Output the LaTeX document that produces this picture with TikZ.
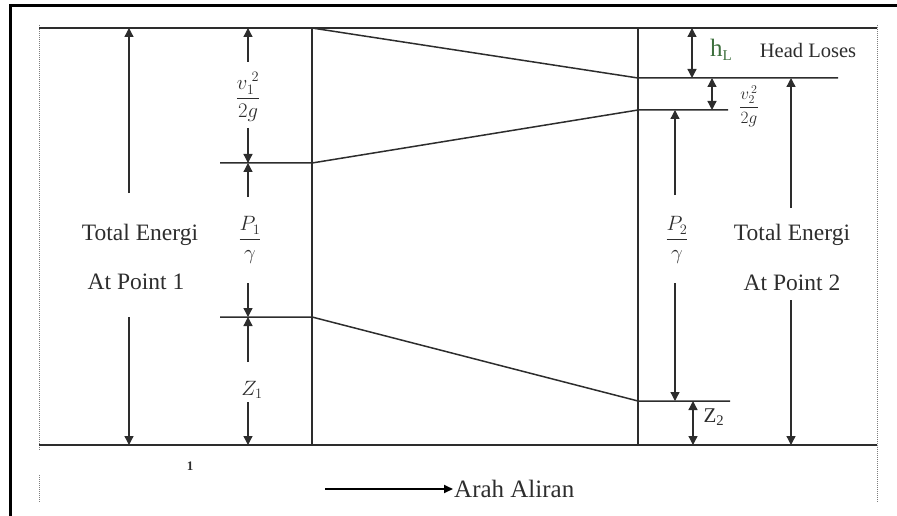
\documentclass[tikz,border=0pt]{standalone}
\usepackage{amsmath}
\usepackage{fontspec}
\setmainfont{Liberation Serif}
\usepackage{tikz}
\usetikzlibrary{arrows.meta,positioning}
\definecolor{lineGray}{RGB}{45,45,45}
\definecolor{dotGray}{RGB}{125,125,125}
\definecolor{headGreen}{RGB}{62,112,62}

\tikzset{
  levelline/.style={lineGray, line width=1.5pt},
  dimarrow/.style={-{Triangle[length=9pt,width=9pt]}, lineGray, line width=1.3pt},
  dimboth/.style={{Triangle[length=9pt,width=9pt]}-{Triangle[length=9pt,width=9pt]}, lineGray, line width=1.3pt},
  flowarrow/.style={-{Triangle[length=9pt,width=8pt]}, black, line width=1.8pt},
  guide/.style={dotGray, densely dotted, line width=1pt},
  lbl/.style={text=lineGray, inner sep=1pt, font=\fontsize{23.5}{26}\selectfont},
  headlbl/.style={lbl, font=\fontsize{21}{24}\selectfont},
}

\begin{document}
\begin{tikzpicture}[x=1pt,y=-1pt]
    \useasboundingbox (0,0) rectangle (897,516);

    % frame and guides
    \draw[black, line width=3pt] (10,516) -- (10,6) -- (897,6);
    \draw[guide] (39,25) -- (39,450);
    \draw[guide] (39,475) -- (39,503);
    \draw[guide] (877,25) -- (877,503);

    % datum, top line, sections
    \coordinate (topL) at (39,28);
    \coordinate (topR) at (877,28);
    \coordinate (datumL) at (39,445);
    \coordinate (datumR) at (877,445);
    \coordinate (sec1Top) at (312,28);
    \coordinate (sec1Bot) at (312,445);
    \coordinate (sec2Top) at (638,28);
    \coordinate (sec2Bot) at (638,445);
    \draw[levelline] (topL) -- (topR);
    \draw[levelline] (datumL) -- (datumR);
    \draw[levelline] (sec1Top) -- (sec1Bot);
    \draw[levelline] (sec2Top) -- (sec2Bot);

    % energy line, velocity line, pressure line
    \coordinate (egl2) at (638,78);
    \coordinate (egl2End) at (838,78);
    \coordinate (vel1Start) at (220,163);
    \coordinate (vel1) at (312,163);
    \coordinate (vel2) at (638,110);
    \coordinate (vel2End) at (728,110);
    \coordinate (pres1Start) at (220,317);
    \coordinate (pres1) at (312,317);
    \coordinate (pres2) at (638,401);
    \coordinate (pres2End) at (730,401);
    \draw[levelline] (sec1Top) -- (egl2) -- (egl2End);
    \draw[levelline] (vel1Start) -- (vel1) -- (vel2) -- (vel2End);
    \draw[levelline] (pres1Start) -- (pres1) -- (pres2) -- (pres2End);

    % total energy at point 1
    \node[lbl] (tot1) at (140,235) {Total Energi};
    \node[lbl] (pt1) at (136,282) {At Point 1};
    \coordinate (tot1Top) at (129,28);
    \coordinate (tot1Up) at (129,193);
    \coordinate (tot1Dn) at (129,317);
    \coordinate (tot1Bot) at (129,445);
    \draw[dimarrow] (tot1Up) -- (tot1Top);
    \draw[dimarrow] (tot1Dn) -- (tot1Bot);

    % heads at point 1
    \node[headlbl] (v1head) at (248,97) {$\dfrac{v_1^{\;2}}{2g}$};
    \node[headlbl] (p1head) at (250,240) {$\dfrac{P_1}{\gamma}$};
    \node[headlbl] (z1head) at (252,390) {$Z_1$};
    \coordinate (c1Top) at (248,28);
    \coordinate (c1a) at (248,62);
    \coordinate (c1b) at (248,128);
    \coordinate (c1Vel) at (248,163);
    \coordinate (c1c) at (248,197);
    \coordinate (c1d) at (248,283);
    \coordinate (c1Pres) at (248,317);
    \coordinate (c1e) at (248,362);
    \coordinate (c1f) at (248,402);
    \coordinate (c1Bot) at (248,445);
    \draw[dimarrow] (c1a) -- (c1Top);
    \draw[dimarrow] (c1b) -- (c1Vel);
    \draw[dimarrow] (c1c) -- (c1Vel);
    \draw[dimarrow] (c1d) -- (c1Pres);
    \draw[dimarrow] (c1e) -- (c1Pres);
    \draw[dimarrow] (c1f) -- (c1Bot);

    % heads at point 2
    \node[inner sep=0pt, font=\fontsize{25}{27}\selectfont, text=headGreen] (hl) at (721,50)
        {h\raisebox{-0.35ex}{\fontsize{15}{15}\selectfont L}};
    \node[lbl, font=\fontsize{20.5}{22}\selectfont] (hlText) at (808,50) {Head Loses};
    \node[lbl, font=\fontsize{17}{18}\selectfont] (v2head) at (749,106) {$\dfrac{v_2^{\,2}}{2g}$};
    \node[headlbl] (p2head) at (677,240) {$\dfrac{P_2}{\gamma}$};
    \node[lbl, font=\fontsize{21}{22}\selectfont] (z2head) at (714,417) {Z\textsubscript{2}};
    \coordinate (hlTop) at (692,28);
    \coordinate (hlBot) at (692,78);
    \coordinate (v2Top) at (712,78);
    \coordinate (v2Bot) at (712,110);
    \coordinate (p2Vel) at (675,110);
    \coordinate (p2a) at (675,195);
    \coordinate (p2b) at (675,283);
    \coordinate (p2Pres) at (675,401);
    \coordinate (z2Top) at (693,401);
    \coordinate (z2Bot) at (693,445);
    \draw[dimboth] (hlTop) -- (hlBot);
    \draw[dimboth] (v2Top) -- (v2Bot);
    \draw[dimarrow] (p2a) -- (p2Vel);
    \draw[dimarrow] (p2b) -- (p2Pres);
    \draw[dimboth] (z2Top) -- (z2Bot);

    % total energy at point 2
    \node[lbl] (tot2) at (792,235) {Total Energi};
    \node[lbl] (pt2) at (792,283) {At Point 2};
    \coordinate (tot2Top) at (791,78);
    \coordinate (tot2Up) at (791,208);
    \coordinate (tot2Dn) at (791,300);
    \coordinate (tot2Bot) at (791,445);
    \draw[dimarrow] (tot2Up) -- (tot2Top);
    \draw[dimarrow] (tot2Dn) -- (tot2Bot);

    % flow direction
    \node[lbl, font=\fontsize{13}{13}\selectfont\bfseries] (mark) at (190,466) {1};
    \coordinate (flowStart) at (325,489);
    \node[lbl, anchor=west, font=\fontsize{25}{27}\selectfont] (flow) at (453,489) {Arah Aliran};
    \draw[flowarrow] (flowStart) -- (flow.west);
\end{tikzpicture}
\end{document}
